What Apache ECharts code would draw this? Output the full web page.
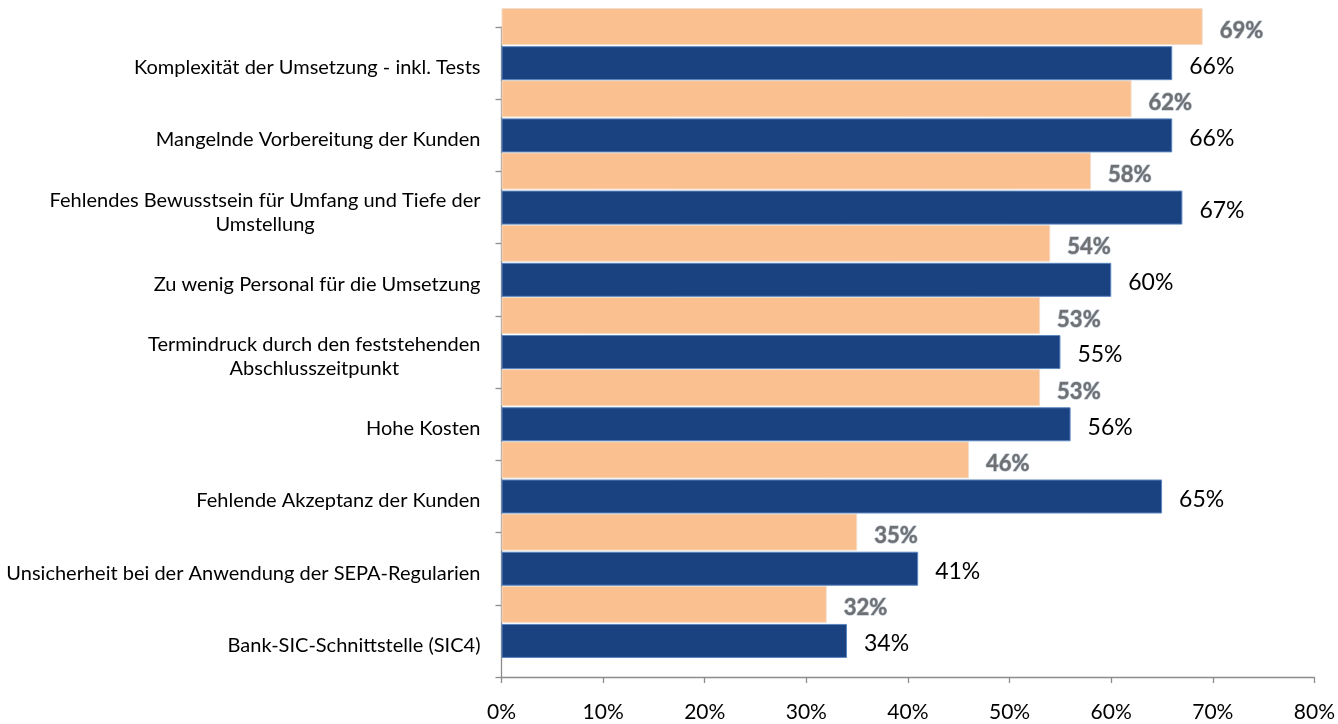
<!DOCTYPE html>
<html>
<head>
<meta charset="utf-8">
<script src="https://cdn.jsdelivr.net/npm/echarts@6/dist/echarts.min.js"></script>
<style>
html,body{margin:0;padding:0;background:#fff;}
#chart{width:1338px;height:724px;}
</style>
</head>
<body>
<div id="chart"></div>
<script>
const categories = [
  "Komplexität der Umsetzung - inkl. Tests",
  "Mangelnde Vorbereitung der Kunden",
  "Fehlendes Bewusstsein für Umfang und Tiefe der\nUmstellung",
  "Zu wenig Personal für die Umsetzung",
  "Termindruck durch den feststehenden\nAbschlusszeitpunkt",
  "Hohe Kosten",
  "Fehlende Akzeptanz der Kunden",
  "Unsicherheit bei der Anwendung der SEPA-Regularien",
  "Bank-SIC-Schnittstelle (SIC4)"
];
const orangeValues = [69, 62, 58, 54, 53, 53, 46, 35, 32];
const blueValues = [66, 66, 67, 60, 55, 56, 65, 41, 34];
const xTicks = [0, 10, 20, 30, 40, 50, 60, 70, 80];

const chart = echarts.init(document.getElementById('chart'), null, {renderer: 'canvas'});
const FONT = 'Lato';
const option = {
  animation: false,
  backgroundColor: '#ffffff',
  grid: [
    {left: 501.5, right: 23.5, top: 8, height: 650, containLabel: false},
    {left: 501.5, right: 23.5, top: 27, height: 650, containLabel: false}
  ],
  xAxis: [
    {gridIndex: 0, type: 'value', min: xTicks[0], max: xTicks[xTicks.length - 1], interval: 10, show: false},
    {gridIndex: 1, type: 'value', min: xTicks[0], max: xTicks[xTicks.length - 1], interval: 10,
      axisLine: {show: true, lineStyle: {color: '#8c8c8c', width: 1.3}},
      axisTick: {show: true, length: 6, inside: false, lineStyle: {color: '#8c8c8c', width: 1.3}},
      splitLine: {show: false},
      axisLabel: {formatter: '{value}%', color: '#000', fontFamily: FONT, fontSize: 21, margin: 25}
    }
  ],
  yAxis: [
    {gridIndex: 0, type: 'category', data: categories, inverse: true, show: false},
    {gridIndex: 1, type: 'category', data: categories, inverse: true,
      axisLine: {show: true, lineStyle: {color: '#8c8c8c', width: 1.3}},
      axisTick: {show: true, length: 6, alignWithLabel: false, lineStyle: {color: '#8c8c8c', width: 1.3}},
      axisLabel: {
        margin: 21,
        align: 'right',
        padding: [9, 0, 0, 0],
        formatter: function (v) { return v.split('\n').map(l => '{c|' + l + '}').join('\n'); },
        rich: {c: {align: 'center', fontFamily: FONT, fontSize: 20, lineHeight: 24, color: '#000'}}
      }
    }
  ],
  series: [
    {
      name: 'Serie 1', type: 'bar', xAxisIndex: 0, yAxisIndex: 0,
      data: orangeValues, barWidth: 37, barGap: '3%',
      itemStyle: {color: '#FAC08F', borderColor: '#f3dcc8', borderWidth: 1},
      label: {show: true, position: 'right', distance: 17, formatter: '{c}%',
        fontFamily: FONT, fontSize: 22, fontWeight: 'bold', color: '#707070',
        textBorderColor: 'rgba(165,178,200,0.9)', textBorderWidth: 1.2, offset: [0, 4]}
    },
    {
      name: 'Serie 2', type: 'bar', xAxisIndex: 0, yAxisIndex: 0,
      data: blueValues, barWidth: 34,
      itemStyle: {color: '#1B4280', borderColor: '#5a86c0', borderWidth: 1},
      label: {show: true, position: 'right', distance: 17, formatter: '{c}%',
        fontFamily: FONT, fontSize: 23, color: '#000', offset: [0, 3]}
    }
  ]
};
chart.setOption(option);
</script>
</body>
</html>
